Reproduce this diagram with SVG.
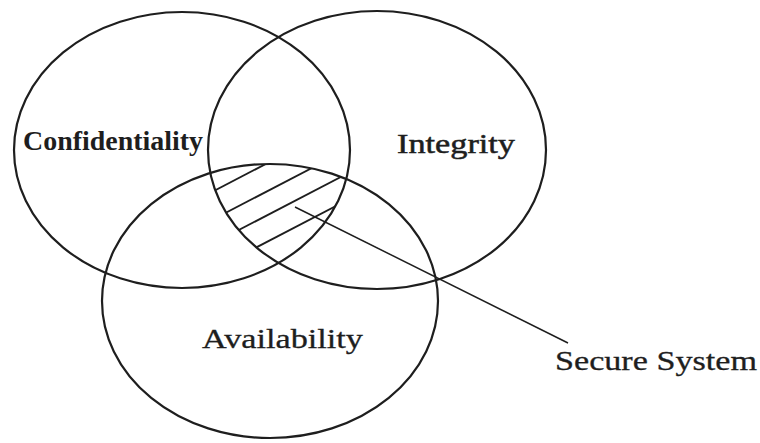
<svg xmlns="http://www.w3.org/2000/svg" width="760" height="443" viewBox="0 0 760 443">
<style>
.c{fill:none;stroke:#1e1e1e;stroke-width:2.2}
.h{stroke:#1e1e1e;stroke-width:1.8}
.l{stroke:#1e1e1e;stroke-width:1.5}
.t{font-family:"Liberation Serif","Times New Roman",serif;fill:#1e1e1e;font-size:27px}
</style>
<defs>
<clipPath id="cC"><ellipse cx="182" cy="150" rx="168" ry="138"/></clipPath>
<clipPath id="cI"><ellipse cx="377" cy="150" rx="169" ry="139"/></clipPath>
<clipPath id="cA"><ellipse cx="270" cy="301" rx="168" ry="137"/></clipPath>
</defs>
<rect width="760" height="443" fill="#fff"/>
<g id="confidentiality">
<ellipse class="c" cx="182" cy="150" rx="168" ry="138"/>
<text class="t" x="23" y="150" font-weight="bold" textLength="180" lengthAdjust="spacingAndGlyphs">Confidentiality</text>
</g>
<g id="integrity">
<ellipse class="c" cx="377" cy="150" rx="169" ry="139"/>
<text class="t" x="397" y="153" textLength="118" lengthAdjust="spacingAndGlyphs" stroke="#1e1e1e" stroke-width="0.5">Integrity</text>
</g>
<g id="availability">
<ellipse class="c" cx="270" cy="301" rx="168" ry="137"/>
<text class="t" x="202" y="348" textLength="161" lengthAdjust="spacingAndGlyphs" stroke="#1e1e1e" stroke-width="0.3">Availability</text>
</g>
<g id="secure-region" clip-path="url(#cC)">
<g clip-path="url(#cI)">
<g clip-path="url(#cA)">
<line class="h" x1="180" y1="208.6" x2="360" y2="115"/>
<line class="h" x1="180" y1="236.6" x2="360" y2="143"/>
<line class="h" x1="180" y1="260.6" x2="360" y2="167"/>
<line class="h" x1="180" y1="287.1" x2="360" y2="193.5"/>
</g>
</g>
</g>
<g id="connectors">
<line class="l" x1="295" y1="207" x2="568" y2="343"/>
</g>
<g id="secure-system">
<text class="t" x="555" y="370" font-size="28" textLength="202" lengthAdjust="spacingAndGlyphs" stroke="#1e1e1e" stroke-width="0.3">Secure System</text>
</g>
</svg>
